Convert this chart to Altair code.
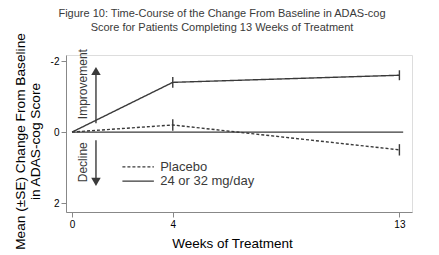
import altair as alt
import pandas as pd

weeks = [0, 4, 13]
placebo = [0.0, -0.2, 0.5]
placebo_se = [0.0, 0.16, 0.16]
treated = [0.0, -1.4, -1.6]
treated_se = [0.0, 0.15, 0.14]
groups = ["Placebo", "24 or 32 mg/day"]
y_ticks = [-2, -1, 0, 1, 2]
x_ticks = [0, 4, 13]

FONT = "Liberation Sans"
INK = "#3a3a3a"

rows = []
for w, v, s in zip(weeks, placebo, placebo_se):
    rows.append({"week": w, "change": v, "lo": v - s, "hi": v + s, "group": groups[0]})
for w, v, s in zip(weeks, treated, treated_se):
    rows.append({"week": w, "change": v, "lo": v - s, "hi": v + s, "group": groups[1]})
df = pd.DataFrame(rows)
err_df = df[df["week"] > 0]

xs = alt.Scale(domain=[-0.24, 13.5], nice=False, zero=False)
ys = alt.Scale(domain=[-2.17, 2.25], reverse=True, nice=False, zero=False)
dash = alt.Scale(domain=groups, range=[[3, 2], [1, 0]])

lines = alt.Chart(df).mark_line(color=INK, strokeWidth=1.4).encode(
    x=alt.X("week:Q", scale=xs,
            axis=alt.Axis(values=x_ticks, title="Weeks of Treatment", grid=False,
                          titleX=166, titleY=35, titleBaseline="alphabetic",
                          titleFontWeight="normal", titleFontSize=13.5,
                          labelOverlap=False)),
    y=alt.Y("change:Q", scale=ys,
            axis=alt.Axis(values=y_ticks, grid=False, labelOverlap=False,
                          labelExpr="datum.value < 0 ? '-' + abs(datum.value) : '' + datum.value",
                          title=["Mean (±SE) Change From Baseline", "in ADAS-cog Score"],
                          titleX=-46, titleY=86, titleAlign="center", titleBaseline="middle",
                          titleFontWeight="normal", titleFontSize=13.7, titleLineHeight=15)),
    strokeDash=alt.StrokeDash("group:N", scale=dash, legend=None),
)

errs = alt.Chart(err_df).mark_rule(color=INK, strokeWidth=1.4).encode(
    x="week:Q", y=alt.Y("lo:Q", scale=ys), y2="hi:Q"
)

zero_df = pd.DataFrame({"x": [0], "x2": [13.15], "y": [0]})
zero_line = alt.Chart(zero_df).mark_rule(color=INK, strokeWidth=1.2).encode(
    x=alt.X("x:Q", scale=xs), x2="x2:Q", y=alt.Y("y:Q", scale=ys)
)

# legend drawn as a small key inside the plot
legend_df = pd.DataFrame({"x": [2.0, 2.0], "x2": [3.25, 3.25], "y": [0.98, 1.38],
                          "tx": [3.5, 3.5], "group": groups})
legend_lines = alt.Chart(legend_df).mark_rule(color=INK, strokeWidth=1.4).encode(
    x=alt.X("x:Q", scale=xs), x2="x2:Q", y=alt.Y("y:Q", scale=ys),
    strokeDash=alt.StrokeDash("group:N", scale=dash, legend=None),
)
legend_text = alt.Chart(legend_df).mark_text(
    font=FONT, fontSize=13, color=INK, align="left", baseline="middle"
).encode(x=alt.X("tx:Q", scale=xs), y=alt.Y("y:Q", scale=ys), text="group:N")

# annotation arrows
arrow_df = pd.DataFrame({"x": [0.95, 0.95], "y": [-0.25, 0.23], "y2": [-1.72, 1.4]})
arrow_shafts = alt.Chart(arrow_df).mark_rule(color=INK, strokeWidth=1.4).encode(
    x=alt.X("x:Q", scale=xs), y=alt.Y("y:Q", scale=ys), y2="y2:Q"
)
head_df = pd.DataFrame({"x": [0.95, 0.95], "y": [-1.72, 1.4],
                        "shape": ["triangle-up", "triangle-down"]})
arrow_heads = alt.Chart(head_df).mark_point(filled=True, color=INK, size=90, opacity=1).encode(
    x=alt.X("x:Q", scale=xs), y=alt.Y("y:Q", scale=ys),
    shape=alt.Shape("shape:N", scale=None, legend=None)
)
label_df = pd.DataFrame({"x": [0.42, 0.42], "y": [-1.35, 0.85], "t": ["Improvement", "Decline"]})
arrow_labels = alt.Chart(label_df).mark_text(
    angle=270, font=FONT, fontSize=12, color=INK, baseline="middle", align="center"
).encode(x=alt.X("x:Q", scale=xs), y=alt.Y("y:Q", scale=ys), text="t:N")

chart = alt.layer(zero_line, lines, errs, legend_lines, legend_text,
                  arrow_shafts, arrow_heads, arrow_labels).properties(
    width=346, height=157,
    padding={"left": 66, "top": 55, "right": 27, "bottom": 43},
    autosize=alt.AutoSizeParams(type="none"),
    title=alt.TitleParams(
        text=["Figure 10: Time-Course of the Change From Baseline in ADAS-cog",
              "Score for Patients Completing 13 Weeks of Treatment"],
        font=FONT, fontSize=11, fontWeight="normal", color=INK,
        anchor="middle", frame="group", dx=-17, dy=10, offset=10, lineHeight=14),
).configure_view(stroke=None).configure_axis(
    domainColor="#555", domainWidth=2.5, tickColor="#555", tickWidth=2, tickSize=5,
    labelFont=FONT, labelFontSize=12, labelColor=INK, titleFont=FONT,
    titleColor=INK, labelPadding=3,
).configure(background="white")

chart.save("out.html", embed_options={"renderer": "svg", "actions": False})
